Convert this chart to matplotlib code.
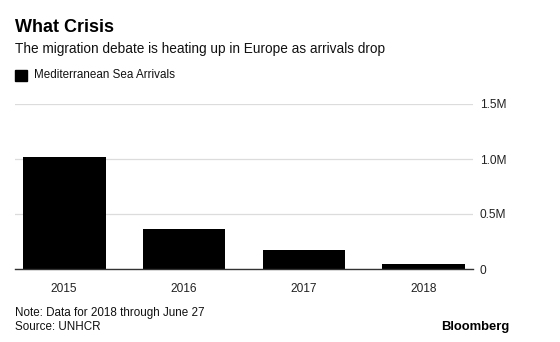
import matplotlib

matplotlib.use("Agg")
import matplotlib.pyplot as plt
from matplotlib.ticker import FuncFormatter

plt.rcParams["font.family"] = ["Liberation Sans", "DejaVu Sans"]

# Llegadas por el Mediterraneo (UNHCR); 2018 hasta el 27 de junio
anios = ["2015", "2016", "2017", "2018"]
llegadas = [1015000, 362000, 172000, 45000]
ticks_y = [0, 500000, 1000000, 1500000]

W, H = 560, 342
fig = plt.figure(figsize=(W / 100, H / 100), dpi=100)

# Ejes en coordenadas de pixel del lienzo
x0, x1 = 15, 473
y_cero, y_tope = 269, 104
ax = fig.add_axes([x0 / W, (H - y_cero) / H, (x1 - x0) / W, (y_cero - y_tope) / H])

pos = range(len(anios))
ax.bar(pos, llegadas, width=0.69, color="black", zorder=3)
ax.set_xlim(-0.41, len(anios) - 1 + 0.41)
ax.set_ylim(0, 1500000)

ax.set_yticks(ticks_y)
ax.yaxis.tick_right()
ax.yaxis.set_major_formatter(
    FuncFormatter(lambda v, _: "0" if v == 0 else f"{v / 1e6:.1f}M"))
ax.grid(axis="y", color="#dcdcdc", linewidth=0.9, zorder=0)
ax.tick_params(axis="y", length=0, pad=5, labelsize=8.6, labelcolor="#222222")

ax.set_xticks(list(pos))
ax.set_xticklabels(anios)
ax.tick_params(axis="x", length=0, pad=10, labelsize=8.6, labelcolor="#222222")

for lado in ("top", "right", "left"):
    ax.spines[lado].set_visible(False)
ax.spines["bottom"].set_color("#333333")
ax.spines["bottom"].set_linewidth(1.0)
ax.spines["bottom"].set_zorder(4)

# Titulos y leyenda
fig.text(15 / W, 1 - 27 / H, "What Crisis", fontsize=13, fontweight="bold",
         va="center", ha="left")
fig.text(15 / W, 1 - 49 / H,
         "The migration debate is heating up in Europe as arrivals drop",
         fontsize=9.8, va="center", ha="left", color="#111111")
fig.patches.append(plt.Rectangle((15 / W, 1 - 81 / H), 12 / W, 11 / H,
                                 transform=fig.transFigure, color="black"))
fig.text(34 / W, 1 - 75 / H, "Mediterranean Sea Arrivals", fontsize=8.4,
         va="center", ha="left", color="#111111")

# Notas al pie
fig.text(15 / W, 1 - 313 / H, "Note: Data for 2018 through June 27",
         fontsize=8.4, va="center", ha="left", color="#111111")
fig.text(15 / W, 1 - 327 / H, "Source: UNHCR", fontsize=8.4,
         va="center", ha="left", color="#111111")
fig.text(509 / W, 1 - 327 / H, "Bloomberg", fontsize=9.4, fontweight="bold",
         va="center", ha="right")

fig.savefig("out.png", dpi=100)
